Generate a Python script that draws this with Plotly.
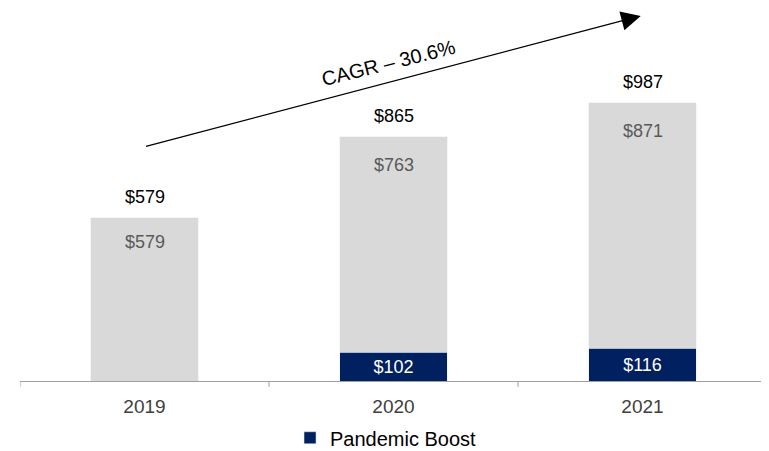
import plotly.graph_objects as go

years = ["2019", "2020", "2021"]
base = [579, 763, 871]
boost = [0, 102, 116]
totals = [579, 865, 987]
cagr_label = "CAGR – 30.6%"
cagr_start = [0.0, 830]
cagr_end = [1.993, 1294]

FONT = "Liberation Sans, Arial, sans-serif"
NAVY = "#002060"
GRAY = "#D9D9D9"
inner_shift = [-24, -28, -28]

fig = go.Figure()
fig.add_trace(go.Bar(
    x=years, y=boost, name="Pandemic Boost", marker_color=NAVY,
    text=[f"${v}" if v else "" for v in boost], textposition="inside",
    insidetextanchor="middle", textfont=dict(color="white", size=18, family=FONT),
    width=0.43, showlegend=True, hoverinfo="skip",
))
fig.add_trace(go.Bar(
    x=years, y=base, name="Base", marker_color=GRAY, width=0.43,
    showlegend=False, hoverinfo="skip",
))

for i in range(len(years)):
    top = base[i] + boost[i]
    fig.add_annotation(x=i, y=top, text=f"${base[i]}", showarrow=False,
                       yshift=inner_shift[i], font=dict(size=18, color="#595959", family=FONT))
    fig.add_annotation(x=i, y=totals[i], text=f"${totals[i]}", showarrow=False,
                       yshift=21, font=dict(size=18, color="black", family=FONT))

# CAGR arrow
fig.add_annotation(x=cagr_end[0], y=cagr_end[1], ax=cagr_start[0], ay=cagr_start[1],
                   xref="x", yref="y", axref="x", ayref="y", text="", showarrow=True,
                   arrowhead=2, arrowsize=3, arrowwidth=1.3, arrowcolor="black")
fig.add_annotation(x=0.978, y=1128, xref="x", yref="y", text=cagr_label,
                   showarrow=False, textangle=-14,
                   font=dict(size=20, color="black", family=FONT))

fig.update_layout(
    barmode="stack", width=769, height=451,
    margin=dict(l=12, r=10, t=2, b=76),
    paper_bgcolor="white", plot_bgcolor="white",
    font=dict(family=FONT, size=19, color="#404040"),
    legend=dict(orientation="h", x=0.49, xanchor="center", y=-0.153, yanchor="middle",
                font=dict(size=20, color="black")),
)
fig.update_xaxes(type="category", showline=True, linecolor="#A0A0A0", linewidth=1,
                 ticks="outside", ticklen=8, tickcolor="rgba(0,0,0,0)",
                 tickfont=dict(size=19, color="#404040"),
                 range=[-0.5, 2.5])
fig.update_yaxes(visible=False, range=[0, 1315])

# category boundary ticks
for b in [-0.5, 0.5, 1.5, 2.5]:
    fig.add_shape(type="line", xref="x", yref="paper", x0=b, x1=b, y0=0, y1=-0.016,
                  line=dict(color="#A0A0A0", width=1))

fig.write_html("out.html")
